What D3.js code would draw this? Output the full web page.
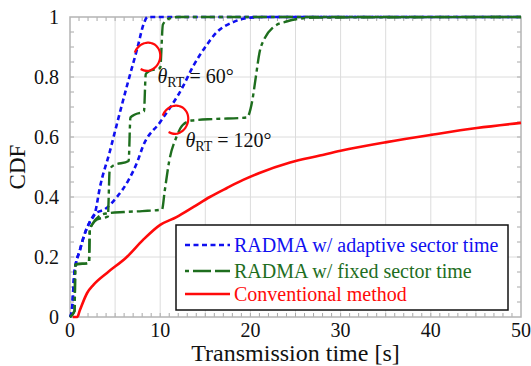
<!DOCTYPE html>
<html>
<head>
<meta charset="utf-8">
<script src="https://cdn.jsdelivr.net/npm/d3@7"></script>
<style>
  body { margin: 0; background: #fff; }
  svg text { font-family: "Liberation Serif", "Times New Roman", Times, serif; }
</style>
</head>
<body>
<svg width="531" height="366"></svg>
<script>
// ---------- data ----------
var xTicks = [0, 10, 20, 30, 40, 50];
var yTicks = [0, 0.2, 0.4, 0.6, 0.8, 1];
var yTickLabels = ["0", "0.2", "0.4", "0.6", "0.8", "1"];

// RADMA w/ adaptive sector time, theta = 60 and 120
var adaptive60 = [[0,0],[0.2,0.02],[0.5,0.15],[1.1,0.223],[1.7,0.283],[2.2,0.317],[2.8,0.35],[3.3,0.43],
  [4.4,0.55],[5,0.62],[6.4,0.78],[7.5,0.9],[8.2,0.98],[8.6,1],[50,1]];
var adaptive120 = [[0,0],[0.2,0.02],[0.5,0.15],[1.1,0.223],[1.7,0.283],[2.2,0.317],[2.8,0.345],[3.9,0.36],
  [5.2,0.4],[6.5,0.457],[7.5,0.52],[8.1,0.57],[10,0.65],[12.5,0.767],[13.6,0.833],[15,0.9],[16.3,0.95],
  [18.1,0.983],[20,0.998],[22,1],[50,1]];

// RADMA w/ fixed sector time
var fixed60 = [[0,0],[0.5,0.02],[0.6,0.175],[2.1,0.18],[2.2,0.29],[2.5,0.31],[3,0.325],[4.2,0.335],
  [4.4,0.49],[4.8,0.505],[6.5,0.52],[6.7,0.665],[7.2,0.675],[8.2,0.685],[8.4,0.81],[8.8,0.82],[10,0.83],
  [10.3,0.975],[11,0.995],[12,1],[50,1]];
var fixed120 = [[0,0],[0.5,0.02],[0.6,0.175],[2.1,0.18],[2.2,0.29],[2.6,0.315],[3.2,0.335],[4,0.345],
  [6,0.35],[8,0.353],[10.2,0.358],[10.5,0.42],[11,0.52],[11.8,0.6],[12.5,0.64],[13.5,0.655],[16,0.66],
  [19.6,0.665],[20.2,0.72],[20.6,0.8],[21,0.88],[21.6,0.93],[22.5,0.965],[24,0.985],[27,0.998],[50,1]];

// Conventional method
var conventional = [[0.3,0],[0.8,0],[1.1,0.023],[1.9,0.08],[2.6,0.107],[4.1,0.147],[6.3,0.2],[8.1,0.257],
  [10,0.307],[11.8,0.333],[13.7,0.367],[15.5,0.4],[17.4,0.43],[19.2,0.457],[21,0.48],[24.4,0.515],
  [27.7,0.538],[30,0.554],[35.1,0.583],[40,0.607],[45.1,0.63],[50,0.647]];

var legendNames = ["RADMA w/ adaptive sector time", "RADMA w/ fixed sector time", "Conventional method"];

// annotation positions in data units
var notes = [
  { label: "60°", cx: 8.54, cy: 0.867, tx: 9.7, ty: 0.78 },
  { label: "120°", cx: 11.64, cy: 0.657, tx: 12.8, ty: 0.567 }
];

// ---------- chart ----------
var svg = d3.select("svg");
var xs = d3.scaleLinear().domain([0, 50]).range([70, 521]);
var ys = d3.scaleLinear().domain([0, 1]).range([317, 17]);

var blue = "#1010f0", green = "#1e6e1e", red = "#ff0a0a";
var serif = "Liberation Serif";

// grid
svg.append("g").selectAll("line").data(d3.range(5, 50, 5)).join("line")
  .attr("x1", d => xs(d)).attr("x2", d => xs(d)).attr("y1", ys(0)).attr("y2", ys(1))
  .attr("stroke", "#dcdcdc").attr("stroke-width", 1);
svg.append("g").selectAll("line").data([0.2, 0.4, 0.6, 0.8]).join("line")
  .attr("y1", d => ys(d)).attr("y2", d => ys(d)).attr("x1", xs(0)).attr("x2", xs(50))
  .attr("stroke", "#dcdcdc").attr("stroke-width", 1);

// minor ticks on all four sides, pointing in
var tickCol = "#a8a8a8";
var xMinor = d3.range(1, 50, 1), yMinor = d3.range(0.05, 1, 0.05);
svg.append("g").selectAll("line").data(xMinor).join("line")
  .attr("x1", d => xs(d)).attr("x2", d => xs(d)).attr("y1", ys(0)).attr("y2", ys(0) - 4)
  .attr("stroke", tickCol);
svg.append("g").selectAll("line").data(xMinor).join("line")
  .attr("x1", d => xs(d)).attr("x2", d => xs(d)).attr("y1", ys(1)).attr("y2", ys(1) + 4)
  .attr("stroke", tickCol);
svg.append("g").selectAll("line").data(yMinor).join("line")
  .attr("y1", d => ys(d)).attr("y2", d => ys(d)).attr("x1", xs(0)).attr("x2", xs(0) + 4)
  .attr("stroke", tickCol);
svg.append("g").selectAll("line").data(yMinor).join("line")
  .attr("y1", d => ys(d)).attr("y2", d => ys(d)).attr("x1", xs(50)).attr("x2", xs(50) - 4)
  .attr("stroke", tickCol);

// frame
svg.append("rect").attr("x", xs(0)).attr("y", ys(1))
  .attr("width", xs(50) - xs(0)).attr("height", ys(0) - ys(1))
  .attr("fill", "none").attr("stroke", "#b4b4b4").attr("stroke-width", 1.5);

// tick labels
svg.append("g").attr("font-family", serif).selectAll("text").data(xTicks).join("text")
  .attr("x", d => xs(d)).attr("y", 337).attr("text-anchor", "middle")
  .attr("font-size", 20).attr("fill", "#111").text(d => d);
svg.append("g").attr("font-family", serif).selectAll("text").data(yTicks).join("text")
  .attr("x", 59).attr("y", d => ys(d) + 7).attr("text-anchor", "end")
  .attr("font-size", 20).attr("fill", "#111").text((d, i) => yTickLabels[i]);

// axis titles
svg.append("text").attr("x", (xs(0) + xs(50)) / 2).attr("y", 361).attr("text-anchor", "middle")
  .attr("font-family", serif).attr("font-size", 24).attr("fill", "#111").text("Transmission time [s]");
svg.append("text").attr("transform", "translate(25," + ys(0.5) + ") rotate(-90)")
  .attr("font-family", serif).attr("text-anchor", "middle").attr("font-size", 23).attr("fill", "#111").text("CDF");

// curves (green on top of blue, like the original)
var line = d3.line().x(d => xs(d[0])).y(d => ys(d[1])).curve(d3.curveMonotoneX);
var plot = svg.append("g");
plot.append("path").datum(conventional).attr("d", line)
  .attr("fill", "none").attr("stroke", red).attr("stroke-width", 2.6);
[adaptive60, adaptive120].forEach(function (s) {
  plot.append("path").datum(s).attr("d", line)
    .attr("fill", "none").attr("stroke", blue).attr("stroke-width", 2.6)
    .attr("stroke-dasharray", "5,3.5");
});
[fixed60, fixed120].forEach(function (s) {
  plot.append("path").datum(s).attr("d", line)
    .attr("fill", "none").attr("stroke", green).attr("stroke-width", 2.4)
    .attr("stroke-dasharray", "14,4,4,4");
});

// annotations: red open ellipse + label
notes.forEach(function (n) {
  var cx = xs(n.cx), cy = ys(n.cy), rx = 13, ry = 14.5, phi = 25 * Math.PI / 180;
  var pts = d3.range(175, 425, 5).map(function (a) {
    var t = a * Math.PI / 180, ex = rx * Math.cos(t), ey = ry * Math.sin(t);
    return [cx + ex * Math.cos(phi) - ey * Math.sin(phi), cy + ex * Math.sin(phi) + ey * Math.cos(phi)];
  });
  var last = pts[pts.length - 1];
  pts.push([last[0] - 4, last[1] - 0.5], [last[0] - 7, last[1] - 2]);
  svg.append("path").attr("d", d3.line().curve(d3.curveBasis)(pts))
    .attr("fill", "none").attr("stroke", red).attr("stroke-width", 2.2);

  var t = svg.append("text").attr("x", xs(n.tx)).attr("y", ys(n.ty))
    .attr("font-family", serif).attr("font-size", 20).attr("fill", "#111");
  t.append("tspan").attr("font-style", "italic").text("θ");
  t.append("tspan").attr("font-size", 14).attr("dy", 4).text("RT");
  t.append("tspan").attr("dy", -4).text(" = " + n.label);
});

// legend
var lg = svg.append("g");
lg.append("rect").attr("x", 176).attr("y", 225).attr("width", 332).attr("height", 85)
  .attr("fill", "#fff").attr("stroke", "#111").attr("stroke-width", 1.5);
var legendStyles = [
  { color: blue, dash: "5,3.5", y: 245 },
  { color: green, dash: "4,4,14,0", y: 271 },
  { color: red, dash: null, y: 294 }
];
legendStyles.forEach(function (s, i) {
  lg.append("line").attr("x1", 185).attr("x2", 230).attr("y1", s.y).attr("y2", s.y)
    .attr("stroke", s.color).attr("stroke-width", 2.4).attr("stroke-dasharray", s.dash);
  lg.append("text").attr("x", 234).attr("y", s.y + 6.5).attr("font-family", serif).attr("font-size", 20)
    .attr("fill", s.color).text(legendNames[i]);
});
</script>
</body>
</html>
